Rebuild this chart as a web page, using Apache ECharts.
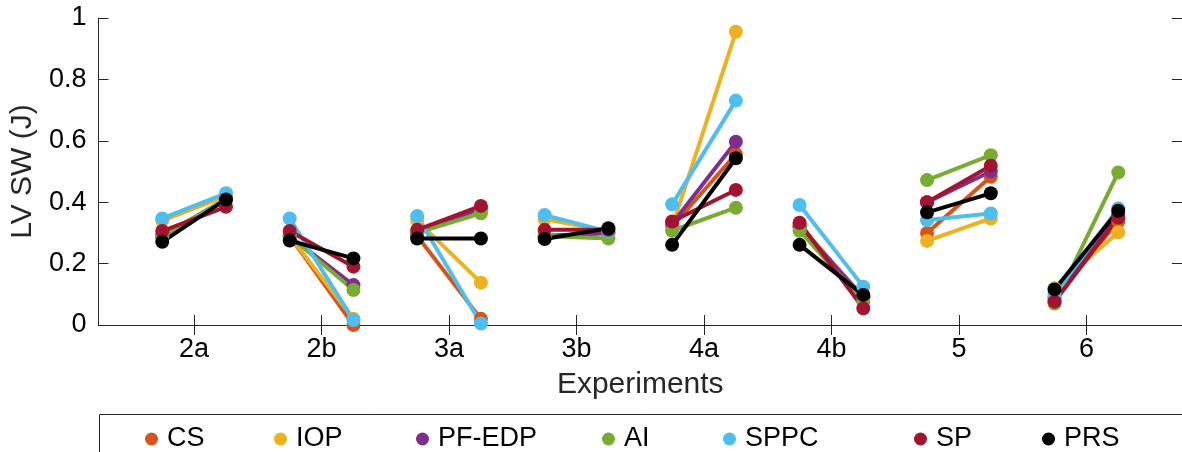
<!DOCTYPE html>
<html>
<head>
<meta charset="utf-8">
<script src="https://cdn.jsdelivr.net/npm/echarts@6/dist/echarts.min.js"></script>
<style>
  html, body { margin: 0; padding: 0; background: #fff; }
  #chart { width: 1182px; height: 452px; }
</style>
</head>
<body>
<div id="chart"></div>
<script>
const experiments = ['2a', '2b', '3a', '3b', '4a', '4b', '5', '6']
const methods = ['CS', 'IOP', 'PF-EDP', 'AI', 'SPPC', 'SP', 'PRS']
const yTicks = [0, 0.2, 0.4, 0.6, 0.8, 1]

// LV SW (J), first and second measurement of each experiment
const csBefore = [0.29, 0.29, 0.29, 0.29, 0.32, 0.325, 0.30, 0.09]
const csAfter = [0.41, 0.00, 0.02, 0.30, 0.557, 0.09, 0.483, 0.337]
const iopBefore = [0.34, 0.29, 0.34, 0.345, 0.32, 0.32, 0.274, 0.12]
const iopAfter = [0.42, 0.02, 0.138, 0.305, 0.955, 0.09, 0.347, 0.302]
const pfBefore = [0.29, 0.29, 0.30, 0.29, 0.33, 0.32, 0.40, 0.08]
const pfAfter = [0.41, 0.13, 0.38, 0.30, 0.597, 0.09, 0.50, 0.36]
const aiBefore = [0.29, 0.29, 0.30, 0.29, 0.307, 0.307, 0.472, 0.07]
const aiAfter = [0.41, 0.114, 0.364, 0.282, 0.382, 0.076, 0.553, 0.497]
const sppcBefore = [0.347, 0.347, 0.355, 0.358, 0.393, 0.391, 0.342, 0.10]
const sppcAfter = [0.429, 0.016, 0.005, 0.304, 0.731, 0.125, 0.363, 0.38]
const spBefore = [0.306, 0.306, 0.31, 0.31, 0.337, 0.333, 0.40, 0.076]
const spAfter = [0.385, 0.19, 0.388, 0.31, 0.44, 0.054, 0.519, 0.35]
const prsBefore = [0.271, 0.275, 0.282, 0.28, 0.261, 0.261, 0.367, 0.116]
const prsAfter = [0.409, 0.217, 0.282, 0.315, 0.543, 0.098, 0.429, 0.372]

const before = [csBefore, iopBefore, pfBefore, aiBefore, sppcBefore, spBefore, prsBefore]
const after = [csAfter, iopAfter, pfAfter, aiAfter, sppcAfter, spAfter, prsAfter]
const colors = ['#D95319', '#EDB120', '#7E2F8E', '#77AC30', '#4DBEEE', '#A2142F', '#000000']

const font = "'Liberation Sans', Arial, sans-serif"
const axisColor = '#262626'
const catPos = experiments.map((e, i) => i + 1)
const legendLeft = [140, 269, 411, 597, 718, 909, 1037]

// one short segment per method and experiment, same name -> one legend entry
const series = []
methods.forEach((m, k) => {
  experiments.forEach((e, i) => {
    series.push({
      name: m,
      type: 'line',
      data: [[i + 1 - 0.25, before[k][i]], [i + 1 + 0.25, after[k][i]]],
      symbol: 'circle',
      symbolSize: 14,
      showSymbol: true,
      clip: false,
      lineStyle: { color: colors[k], width: 4 },
      itemStyle: { color: colors[k] },
      emphasis: { disabled: true },
    })
  })
})

const baseX = {
  type: 'value',
  min: 0.25,
  max: 8.75,
  splitLine: { show: false },
  axisLine: { lineStyle: { color: axisColor, width: 1 } },
  axisTick: { inside: true, length: 10, customValues: catPos, lineStyle: { color: axisColor } },
}
const baseY = {
  type: 'value',
  min: 0,
  max: 1,
  interval: 0.2,
  splitLine: { show: false },
  axisLine: { show: true, lineStyle: { color: axisColor, width: 1 } },
  axisTick: { show: true, inside: true, length: 10, lineStyle: { color: axisColor } },
}

const option = {
  animation: false,
  backgroundColor: '#fff',
  textStyle: { fontFamily: font },
  grid: { left: 98.5, top: 18, width: 1089, height: 307 },
  xAxis: [
    Object.assign({}, baseX, {
      position: 'bottom',
      name: 'Experiments',
      nameLocation: 'middle',
      nameGap: 45,
      nameTextStyle: { fontSize: 30, color: axisColor, fontFamily: font },
      axisLabel: {
        customValues: catPos,
        margin: 11,
        fontSize: 27,
        color: '#000',
        fontFamily: font,
        formatter: (v) => experiments[Math.round(v) - 1],
      },
    }),
    Object.assign({}, baseX, { position: 'top', axisLabel: { show: false } }),
  ],
  yAxis: [
    Object.assign({}, baseY, {
      position: 'left',
      name: 'LV SW (J)',
      nameLocation: 'middle',
      nameGap: 58,
      nameTextStyle: { fontSize: 30, color: axisColor, fontFamily: font },
      axisLabel: {
        customValues: yTicks,
        margin: 12,
        fontSize: 27,
        color: '#000',
        fontFamily: font,
      },
    }),
    Object.assign({}, baseY, { position: 'right', axisLabel: { show: false } }),
  ],
  legend: methods.map((m, k) => ({
    data: [m],
    left: legendLeft[k],
    top: 419,
    icon: 'circle',
    itemWidth: 13,
    itemHeight: 13,
    selectedMode: false,
    textStyle: { fontSize: 27, color: '#000', fontFamily: font, padding: [0, 0, 0, 4], lineHeight: 30 },
  })),
  graphic: [
    {
      type: 'rect',
      shape: { x: 99.5, y: 414.5, width: 1200, height: 100 },
      style: { fill: 'none', stroke: axisColor, lineWidth: 1 },
      z: -1,
    },
  ],
  series: series,
}

const chart = echarts.init(document.getElementById('chart'))
chart.setOption(option)
</script>
</body>
</html>
